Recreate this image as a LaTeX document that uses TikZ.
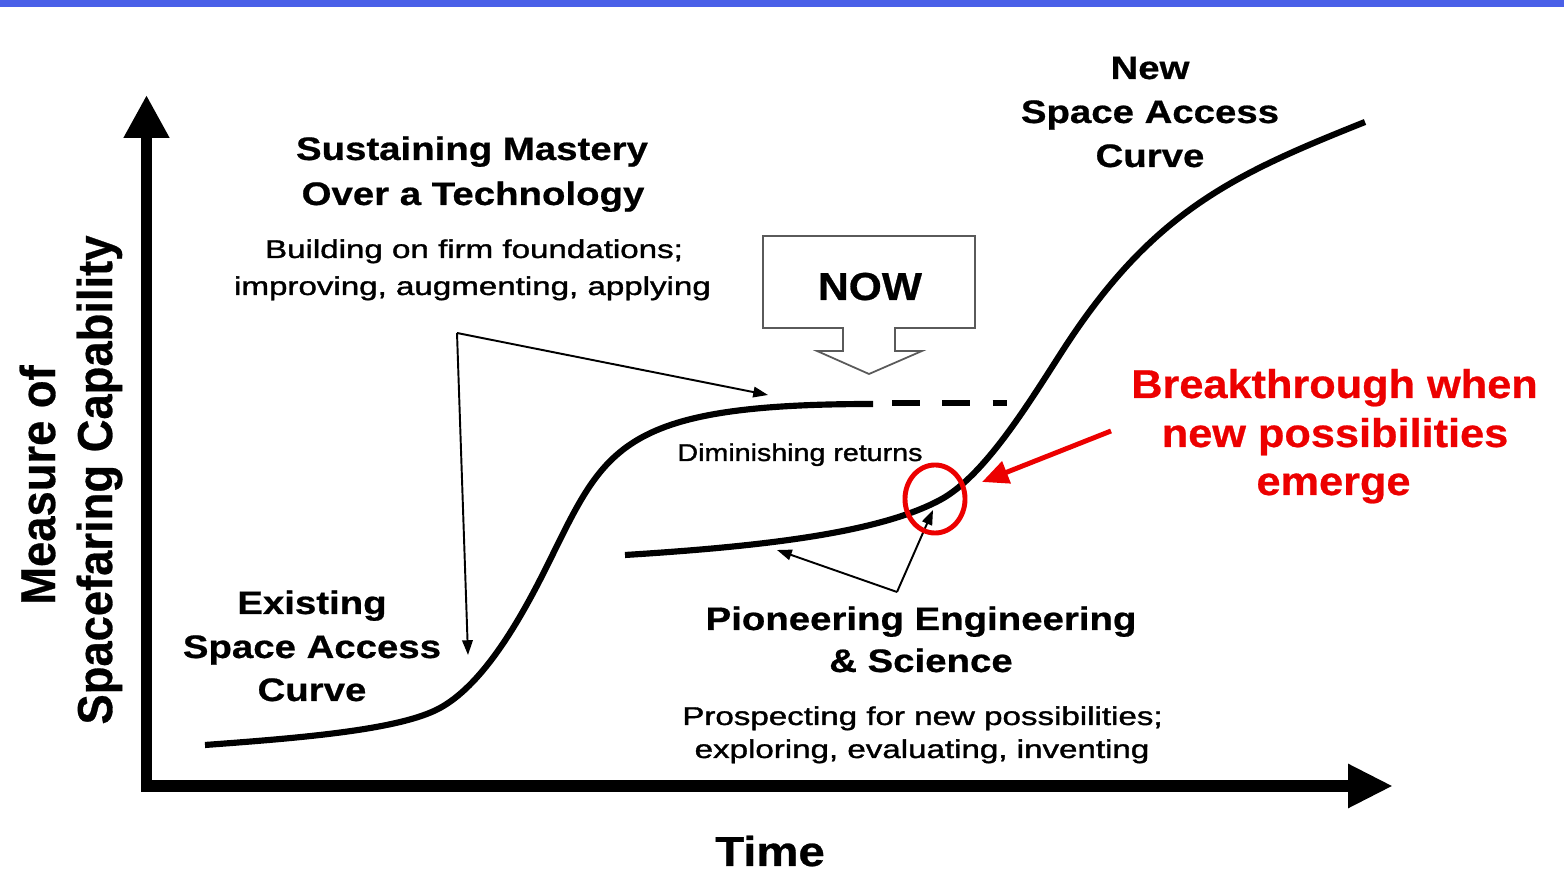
\documentclass[tikz,border=0pt]{standalone}
\usepackage{fontspec}
\setmainfont{Liberation Sans}
\newfontfamily\regheavy[FakeBold=1.2]{Liberation Sans}
\newfontfamily\boldheavy[FakeBold=0.6]{Liberation Sans Bold}
\usetikzlibrary{arrows.meta,shapes.geometric}
\definecolor{topbar}{RGB}{74,96,232}
\definecolor{nowgray}{RGB}{90,90,90}
\definecolor{brkred}{RGB}{236,0,0}
\newcommand{\HX}[1]{\scalebox{1.18}[1]{#1}}
\newcommand{\RX}[1]{\scalebox{1.29}[1]{#1}}
\tikzset{
  hb/.style={anchor=base, inner sep=0pt, font=\fontsize{9.25}{11}\boldheavy},
  rg/.style={anchor=base, inner sep=0pt, font=\fontsize{7.3}{9}\regheavy},
  redtxt/.style={anchor=base, inner sep=0pt, text=brkred, font=\fontsize{11.4}{13}\boldheavy},
  ylab/.style={anchor=base, inner sep=0pt, rotate=90, font=\fontsize{12.9}{15}\boldheavy},
  curve/.style={line width=1.75pt},
  axisline/.style={line width=3.4pt, line join=miter, {Triangle[length=12.2pt,width=12.2pt]}-{Triangle[length=12.8pt,width=11.7pt]}},
  thinarrow/.style={line width=0.55pt, -{Triangle[length=4.2pt,width=3pt]}},
  redarrow/.style={line width=1.4pt, draw=brkred, -{Triangle[length=7.5pt,width=6.5pt]}},
}
\begin{document}
\begin{tikzpicture}[x=0.01cm,y=-0.01cm]
\useasboundingbox (0,0) rectangle (1564,871);
\fill[white] (0,0) rectangle (1564,871);
\fill[topbar] (0,0) rectangle (1564,7);

% axes
\coordinate (ytop) at (146.5,95);
\coordinate (origin) at (146.5,786);
\coordinate (xend) at (1393,786);
\draw[axisline] (ytop) -- (origin) -- (xend);

% existing curve
\draw[curve] (205,745) .. controls (300,738) and (400,730) .. (440,708)
  .. controls (480,686) and (515,630) .. (545,570)
  .. controls (605,450) and (613,404) .. (873,404);
\draw[curve, dash pattern=on 8pt off 6.3pt] (892,403) -- (1007,403);

% new curve
\draw[curve] (625,555) .. controls (770,546) and (880,532) .. (940,500)
  .. controls (985,476) and (1030,401) .. (1063,350)
  .. controls (1153,210.5) and (1235,174) .. (1365,122);

% NOW box arrow
\draw[nowgray, line width=0.5pt] (763,236) -- (975,236) -- (975,328) -- (895,328) -- (895,351) -- (922,351) -- (869,374) -- (817,351) -- (843,351) -- (843,328) -- (763,328) -- cycle;
\node[anchor=base, inner sep=0pt, font=\fontsize{11.1}{13}\boldheavy] (now) at (870,300) {\scalebox{1.09}[1]{NOW}};

% sustaining arrows
\coordinate (sa) at (457,333);
\coordinate (sb) at (768,395);
\coordinate (sc) at (468,655);
\draw[thinarrow] (sa) -- (sb);
\draw[thinarrow] (sa) -- (sc);

% pioneering arrows
\coordinate (pa) at (897,592);
\coordinate (pb) at (777,550);
\coordinate (pc) at (933,510);
\draw[thinarrow] (pa) -- (pb);
\draw[thinarrow] (pa) -- (pc);

% breakthrough circle and arrow
\node[draw=brkred, line width=1.4pt, ellipse, minimum width=0.6cm, minimum height=0.68cm, inner sep=0pt] (circ) at (935,499) {};
\coordinate (rs) at (1111,431);
\coordinate (rt) at (982,482);
\draw[redarrow] (rs) -- (rt);

% texts
\node[hb] (new1) at (1150,79) {\HX{New}};
\node[hb] (new2) at (1150,123) {\HX{Space Access}};
\node[hb] (new3) at (1150,167) {\HX{Curve}};

\node[hb] (sus1) at (472,160) {\HX{Sustaining Mastery}};
\node[hb] (sus2) at (473,205) {\HX{Over a Technology}};
\node[rg] (bld1) at (474,258) {\RX{Building on firm foundations;}};
\node[rg] (bld2) at (472.5,295) {\RX{improving, augmenting, applying}};

\node[anchor=base, inner sep=0pt, font=\fontsize{6.9}{8}\regheavy] (dim) at (800,461) {\scalebox{1.18}[1]{Diminishing returns}};

\node[redtxt] (brk1) at (1334.5,398) {\scalebox{1.08}[1]{Breakthrough when}};
\node[redtxt] (brk2) at (1335,447) {\scalebox{1.08}[1]{new possibilities}};
\node[redtxt] (brk3) at (1333.5,495) {\scalebox{1.08}[1]{emerge}};

\node[hb] (ex1) at (312,614) {\HX{Existing}};
\node[hb] (ex2) at (312,658) {\HX{Space Access}};
\node[hb] (ex3) at (312,701) {\HX{Curve}};

\node[hb] (pio1) at (921,630) {\HX{Pioneering Engineering}};
\node[hb] (pio2) at (921,672) {\HX{\& Science}};
\node[rg] (pro1) at (922.5,725) {\RX{Prospecting for new possibilities;}};
\node[rg] (pro2) at (922,758) {\RX{exploring, evaluating, inventing}};

\node[anchor=base, inner sep=0pt, font=\fontsize{11.9}{14}\boldheavy] (time) at (770,866) {\scalebox{1.13}[1]{Time}};

\node[ylab] (ylab1) at (55,485) {\scalebox{1}[1.08]{Measure of}};
\node[ylab] (ylab2) at (112,480) {\scalebox{1}[1.08]{Spacefaring Capability}};
\end{tikzpicture}
\end{document}
